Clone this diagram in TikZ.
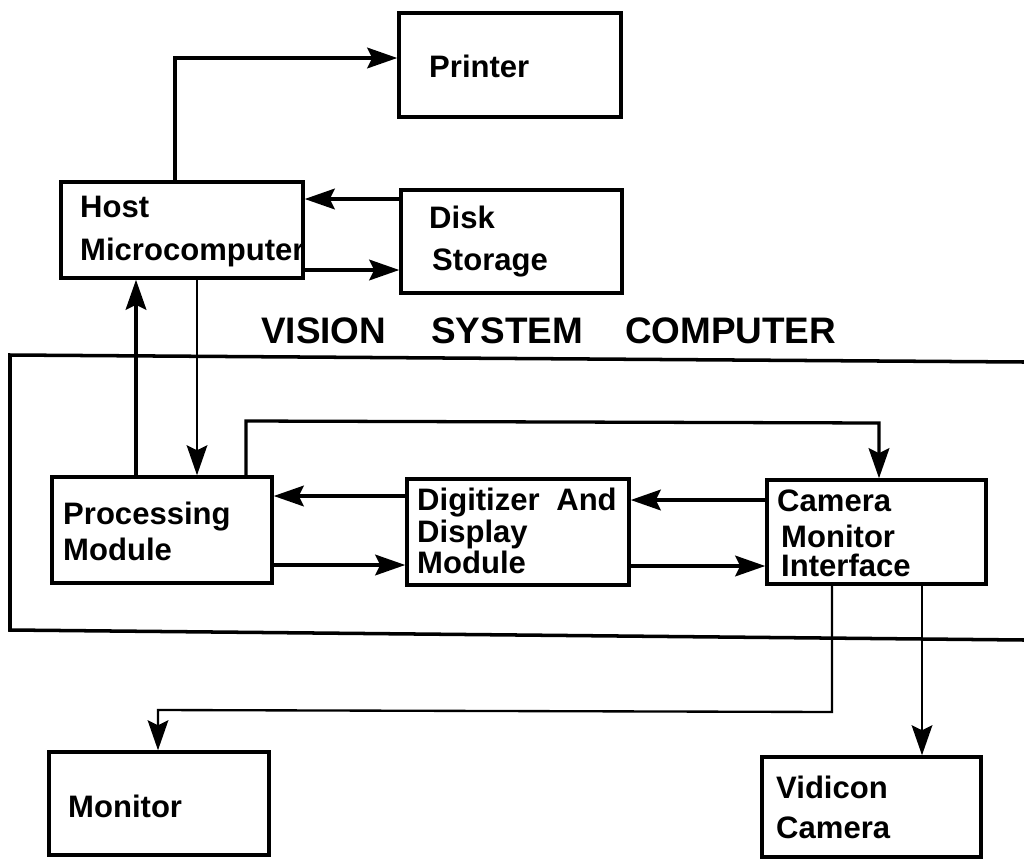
\documentclass[tikz,border=0pt]{standalone}
\usepackage{fontspec}
\setmainfont{Liberation Sans}
\usetikzlibrary{arrows.meta,fit}
\begin{document}
\begin{tikzpicture}[x=0.03cm,y=-0.03cm,
  box/.style={draw, line width=3pt, inner sep=0pt, rectangle},
  lbl/.style={inner sep=0pt, anchor=base west, font=\fontsize{26.5}{30}\selectfont\bfseries},
  title/.style={inner sep=0pt, anchor=base west, font=\fontsize{31.5}{36}\selectfont\bfseries},
  tip/.style={-{Stealth[length=0.9cm,width=0.62cm,inset=0.15cm]}},
  conn/.style={line width=2.8pt, tip},
  connthin/.style={line width=2pt, tip},
  frame/.style={line width=3pt},
]
\useasboundingbox (0,0) rectangle (1024,859);

% boxes
\node[box, fit={(399,13) (621,117)}] (printer) {};
\node[box, fit={(61,182) (303,278)}] (host) {};
\node[box, fit={(401,190) (622,293)}] (disk) {};
\node[box, fit={(52,477) (272,583)}] (proc) {};
\node[box, fit={(407,479) (629,585)}] (digit) {};
\node[box, fit={(767,480) (986,584)}] (cam) {};
\node[box, fit={(49,752) (269,855)}] (mon) {};
\node[box, fit={(762,757) (981,857)}] (vid) {};

% labels
\node[lbl] (printerT) at (429,77) {Printer};
\node[lbl] (hostT1) at (80,217) {Host};
\node[lbl] (hostT2) at (80,260) {Microcomputer};
\node[lbl] (diskT1) at (429,228) {Disk};
\node[lbl] (diskT2) at (432,270) {Storage};
\node[lbl] (procT1) at (63,524) {Processing};
\node[lbl] (procT2) at (63,560) {Module};
\node[lbl] (digitT1) at (417,510) {Digitizer\hspace{0.5cm}And};
\node[lbl] (digitT2) at (417,542) {Display};
\node[lbl] (digitT3) at (417,573) {Module};
\node[lbl] (camT1) at (777,511) {Camera};
\node[lbl] (camT2) at (781,547) {Monitor};
\node[lbl] (camT3) at (781,576) {Interface};
\node[lbl] (monT) at (68,817) {Monitor};
\node[lbl] (vidT1) at (776,798) {Vidicon};
\node[lbl] (vidT2) at (776,838) {Camera};
\node[title] (vsc) at (261,343) {VISION\hspace{1.35cm}SYSTEM\hspace{1.26cm}COMPUTER};

% vision system frame (open on the right)
\draw[frame] (1024,362) -- (10,355) -- (10,630) -- (1024,640);

% connectors
\draw[conn] (host.north -| 175,0) -- (175,58) -- (printer.west |- 0,58);
\draw[conn] (disk.west |- 0,199) -- (host.east |- 0,199);
\draw[conn] (host.east |- 0,270) -- (disk.west |- 0,270);
\draw[connthin] (host.south -| 197,0) -- (proc.north -| 197,0);
\draw[conn] (proc.north -| 136,0) -- (host.south -| 136,0);
\draw[conn] (proc.north -| 246,0) -- (246,421) -- (879,423) -- (cam.north -| 879,0);
\draw[conn] (digit.west |- 0,496) -- (proc.east |- 0,496);
\draw[conn] (proc.east |- 0,565) -- (digit.west |- 0,565);
\draw[conn] (cam.west |- 0,500) -- (digit.east |- 0,500);
\draw[conn] (digit.east |- 0,566) -- (cam.west |- 0,566);
\draw[connthin] (cam.south -| 832,0) -- (832,712) -- (158,710) -- (mon.north -| 158,0);
\draw[connthin] (cam.south -| 922,0) -- (vid.north -| 922,0);
\end{tikzpicture}
\end{document}
